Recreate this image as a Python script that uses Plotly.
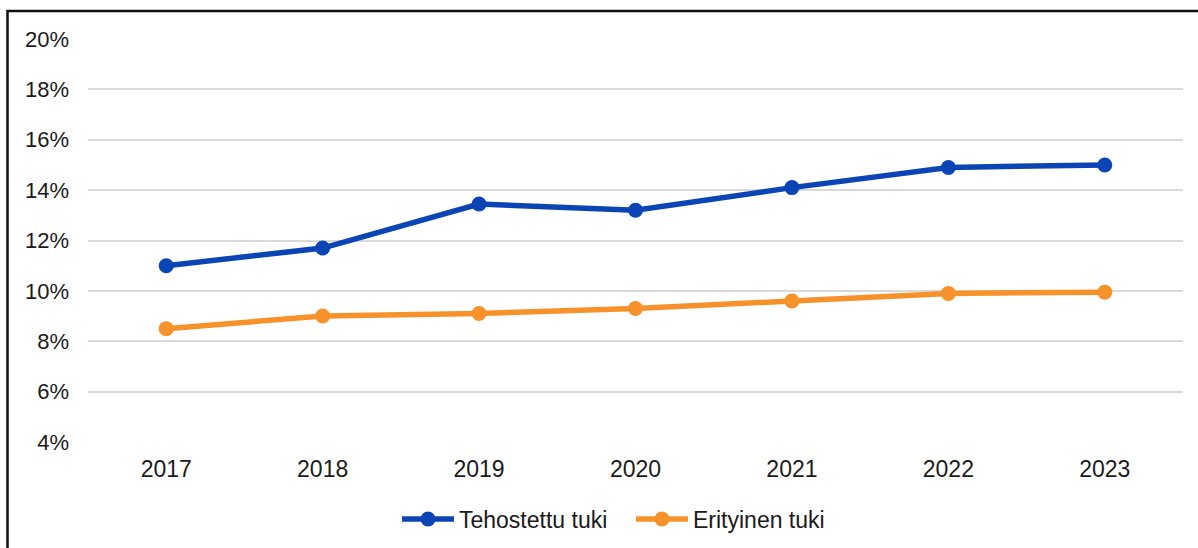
import plotly.graph_objects as go

years = ["2017", "2018", "2019", "2020", "2021", "2022", "2023"]
tehostettu = [11.0, 11.7, 13.45, 13.2, 14.1, 14.9, 15.0]
erityinen = [8.5, 9.0, 9.1, 9.3, 9.6, 9.9, 9.95]
y_ticks = [4, 6, 8, 10, 12, 14, 16, 18, 20]
y_labels = [f"{v}%" for v in y_ticks]

W, H = 1198, 548
L, R, T, B = 88, 15, 39, 106
pw, ph = W - L - R, H - T - B

fig = go.Figure()
fig.add_trace(go.Scatter(x=years, y=tehostettu, name="Tehostettu tuki", mode="lines+markers",
                         line=dict(color="#0B45B5", width=5.5), marker=dict(size=15, color="#0B45B5")))
fig.add_trace(go.Scatter(x=years, y=erityinen, name="Erityinen tuki", mode="lines+markers",
                         line=dict(color="#F7922A", width=5.5), marker=dict(size=15, color="#F7922A")))

def px_x(p):
    return (p - L) / pw

def px_y(p):
    return (H - B - p) / ph

fig.add_shape(type="rect", xref="paper", yref="paper",
              x0=px_x(7.5), x1=px_x(1215), y0=px_y(11), y1=px_y(560),
              line=dict(color="#111111", width=2.5), fillcolor="rgba(0,0,0,0)", layer="above")

fig.update_layout(
    width=W, height=H,
    margin=dict(l=L, r=R, t=T, b=B, autoexpand=False),
    paper_bgcolor="white", plot_bgcolor="white",
    font=dict(family="Liberation Sans, Arial, sans-serif", size=22, color="#1a1a1a"),
    showlegend=True,
    legend=dict(orientation="h", x=px_x(397), xanchor="left", y=px_y(519), yanchor="middle",
                font=dict(size=23), bgcolor="rgba(0,0,0,0)", itemwidth=52, tracegroupgap=0,
                entrywidth=167, entrywidthmode="pixels"),
    xaxis=dict(type="category", range=[-0.5, 6.5], showgrid=False, showline=False, zeroline=False,
               ticks="", ticklabelstandoff=11, tickfont=dict(size=23)),
    yaxis=dict(range=[4, 20], tickvals=y_ticks, ticktext=y_labels, showgrid=True,
               gridcolor="#D9D9D9", gridwidth=2, zeroline=False, showline=False,
               ticks="", ticklabelstandoff=18, tickfont=dict(size=22)),
)

fig.write_html("out.html", config={"displayModeBar": False},
               post_script="document.body.style.margin='0';")
